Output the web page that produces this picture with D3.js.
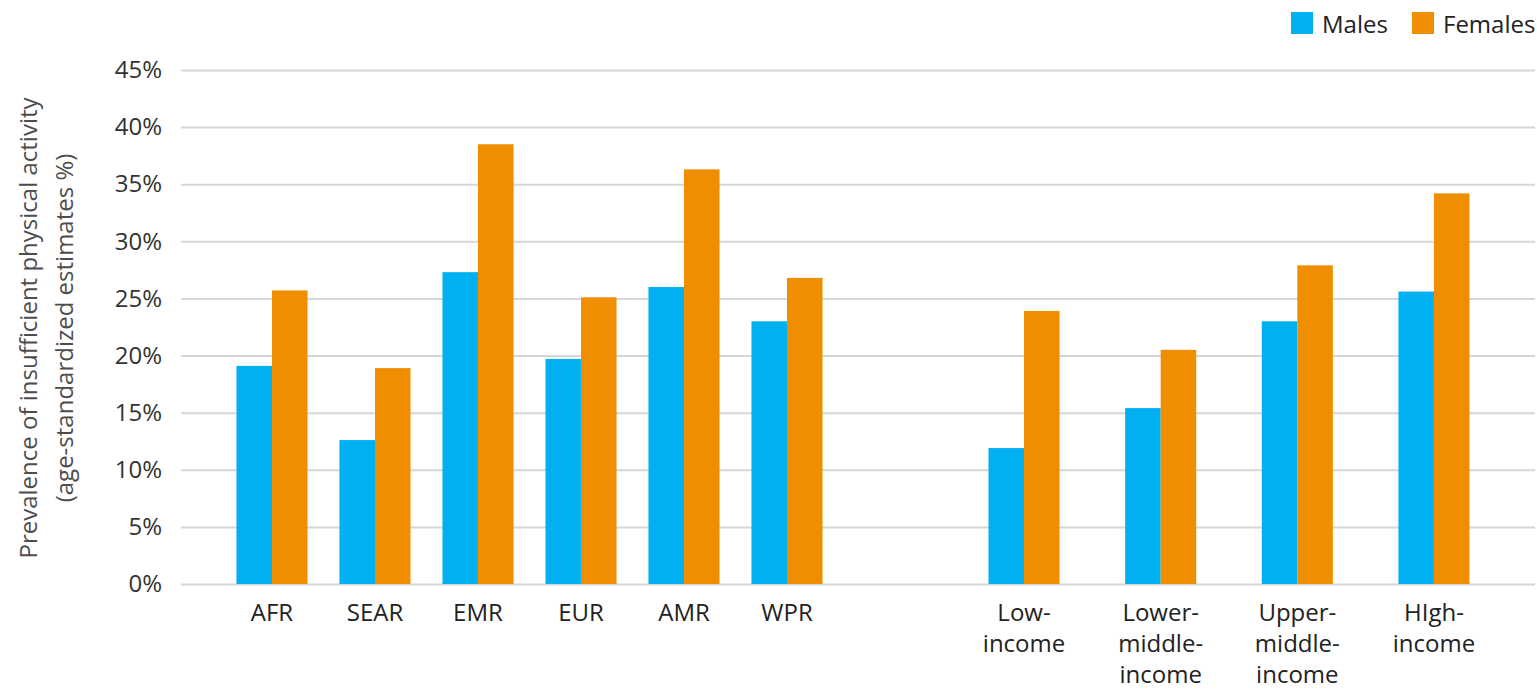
<!DOCTYPE html>
<html>
<head>
<meta charset="utf-8">
<script src="https://cdn.jsdelivr.net/npm/d3@7"></script>
<style>
  body { margin: 0; background: #fff; }
  svg text { font-family: "Open Sans", sans-serif; }
</style>
</head>
<body>
<script>
// WHO regions
const regions = ["AFR", "SEAR", "EMR", "EUR", "AMR", "WPR"];
const regionMales = [19.1, 12.6, 27.3, 19.7, 26.0, 23.0];
const regionFemales = [25.7, 18.9, 38.5, 25.1, 36.3, 26.8];

// World Bank income groups
const incomes = ["Low-income", "Lower-middle-income", "Upper-middle-income", "High-income"];
const incomeLabels = [["Low-", "income"], ["Lower-", "middle-", "income"], ["Upper-", "middle-", "income"], ["HIgh-", "income"]];
const incomeMales = [11.9, 15.4, 23.0, 25.6];
const incomeFemales = [23.9, 20.5, 27.9, 34.2];

const series = ["Males", "Females"];
const yTicks = [0, 5, 10, 15, 20, 25, 30, 35, 40, 45];

const width = 1537;
const height = 691;
const colors = {Males: "#00b0f0", Females: "#ee8e00"};

const svg = d3.select("body")
  .append("svg")
    .attr("width", width)
    .attr("height", height);

const y = d3.scaleLinear()
  .domain([0, 45])
  .range([584, 70]);

// two groups, each with its own spacing
const xRegion = d3.scaleBand()
  .domain(regions)
  .range([220.5, 838.5])
  .paddingInner(0.31)
  .paddingOuter(0.155);

const xIncome = d3.scaleBand()
  .domain(incomes)
  .range([955.7, 1502.3])
  .paddingInner(0.48)
  .paddingOuter(0.24);

// gridlines + tick labels
const yAxis = d3.axisLeft(y)
  .tickValues(yTicks)
  .tickFormat(d => d + "%")
  .tickSize(-(1535 - 181))
  .tickPadding(19);

svg.append("g")
    .attr("transform", "translate(181,0)")
  .call(yAxis)
  .call(g => g.select(".domain").remove())
  .call(g => g.selectAll(".tick line").attr("stroke", "#d6d6d6").attr("stroke-width", 2))
  .call(g => g.selectAll(".tick text")
    .attr("font-size", 24)
    .attr("fill", "#333")
    .attr("font-family", "Open Sans, sans-serif"));

// y title
const title = svg.append("text")
  .attr("transform", "translate(0,328) rotate(-90)")
  .attr("text-anchor", "middle")
  .attr("font-size", 24)
  .attr("fill", "#4d4d4d");
title.append("tspan").attr("x", 0).attr("y", 37).text("Prevalence of insufficient physical activity");
title.append("tspan").attr("x", 0).attr("y", 73).text("(age-standardized estimates %)");

function drawGroup(xScale, cats, males, females, labels) {
  const rows = cats.map((c, i) => ({cat: c, Males: males[i], Females: females[i], label: labels[i]}));
  const xSub = d3.scaleBand()
    .domain(series)
    .range([0, xScale.bandwidth()]);

  const g = svg.append("g");
  const grp = g.selectAll(".grp")
    .data(rows)
    .enter()
    .append("g")
      .attr("transform", d => `translate(${xScale(d.cat)},0)`);

  grp.selectAll("rect")
    .data(d => series.map(s => ({key: s, value: d[s]})))
    .enter()
    .append("rect")
      .attr("x", d => xSub(d.key))
      .attr("width", xSub.bandwidth())
      .attr("y", d => y(d.value))
      .attr("height", d => y(0) - y(d.value))
      .attr("fill", d => colors[d.key]);

  const lbl = grp.append("text")
    .attr("text-anchor", "middle")
    .attr("font-size", 24)
    .attr("fill", "#222");
  lbl.selectAll("tspan")
    .data(d => d.label)
    .enter()
    .append("tspan")
      .attr("x", xScale.bandwidth() / 2)
      .attr("y", (d, i) => 621 + i * 31)
      .text(d => d);
}

drawGroup(xRegion, regions, regionMales, regionFemales, regions.map(r => [r]));
drawGroup(xIncome, incomes, incomeMales, incomeFemales, incomeLabels);

// legend
const legendX = d3.scaleOrdinal()
  .domain(series)
  .range([1291, 1412]);

const legend = svg.append("g");
const item = legend.selectAll("g")
  .data(series)
  .enter()
  .append("g")
    .attr("transform", d => `translate(${legendX(d)},12)`);
item.append("rect")
  .attr("width", 22)
  .attr("height", 22)
  .attr("fill", d => colors[d]);
item.append("text")
  .attr("x", 31)
  .attr("y", 21)
  .attr("font-size", 24)
  .attr("fill", "#222")
  .text(d => d);
</script>
</body>
</html>
